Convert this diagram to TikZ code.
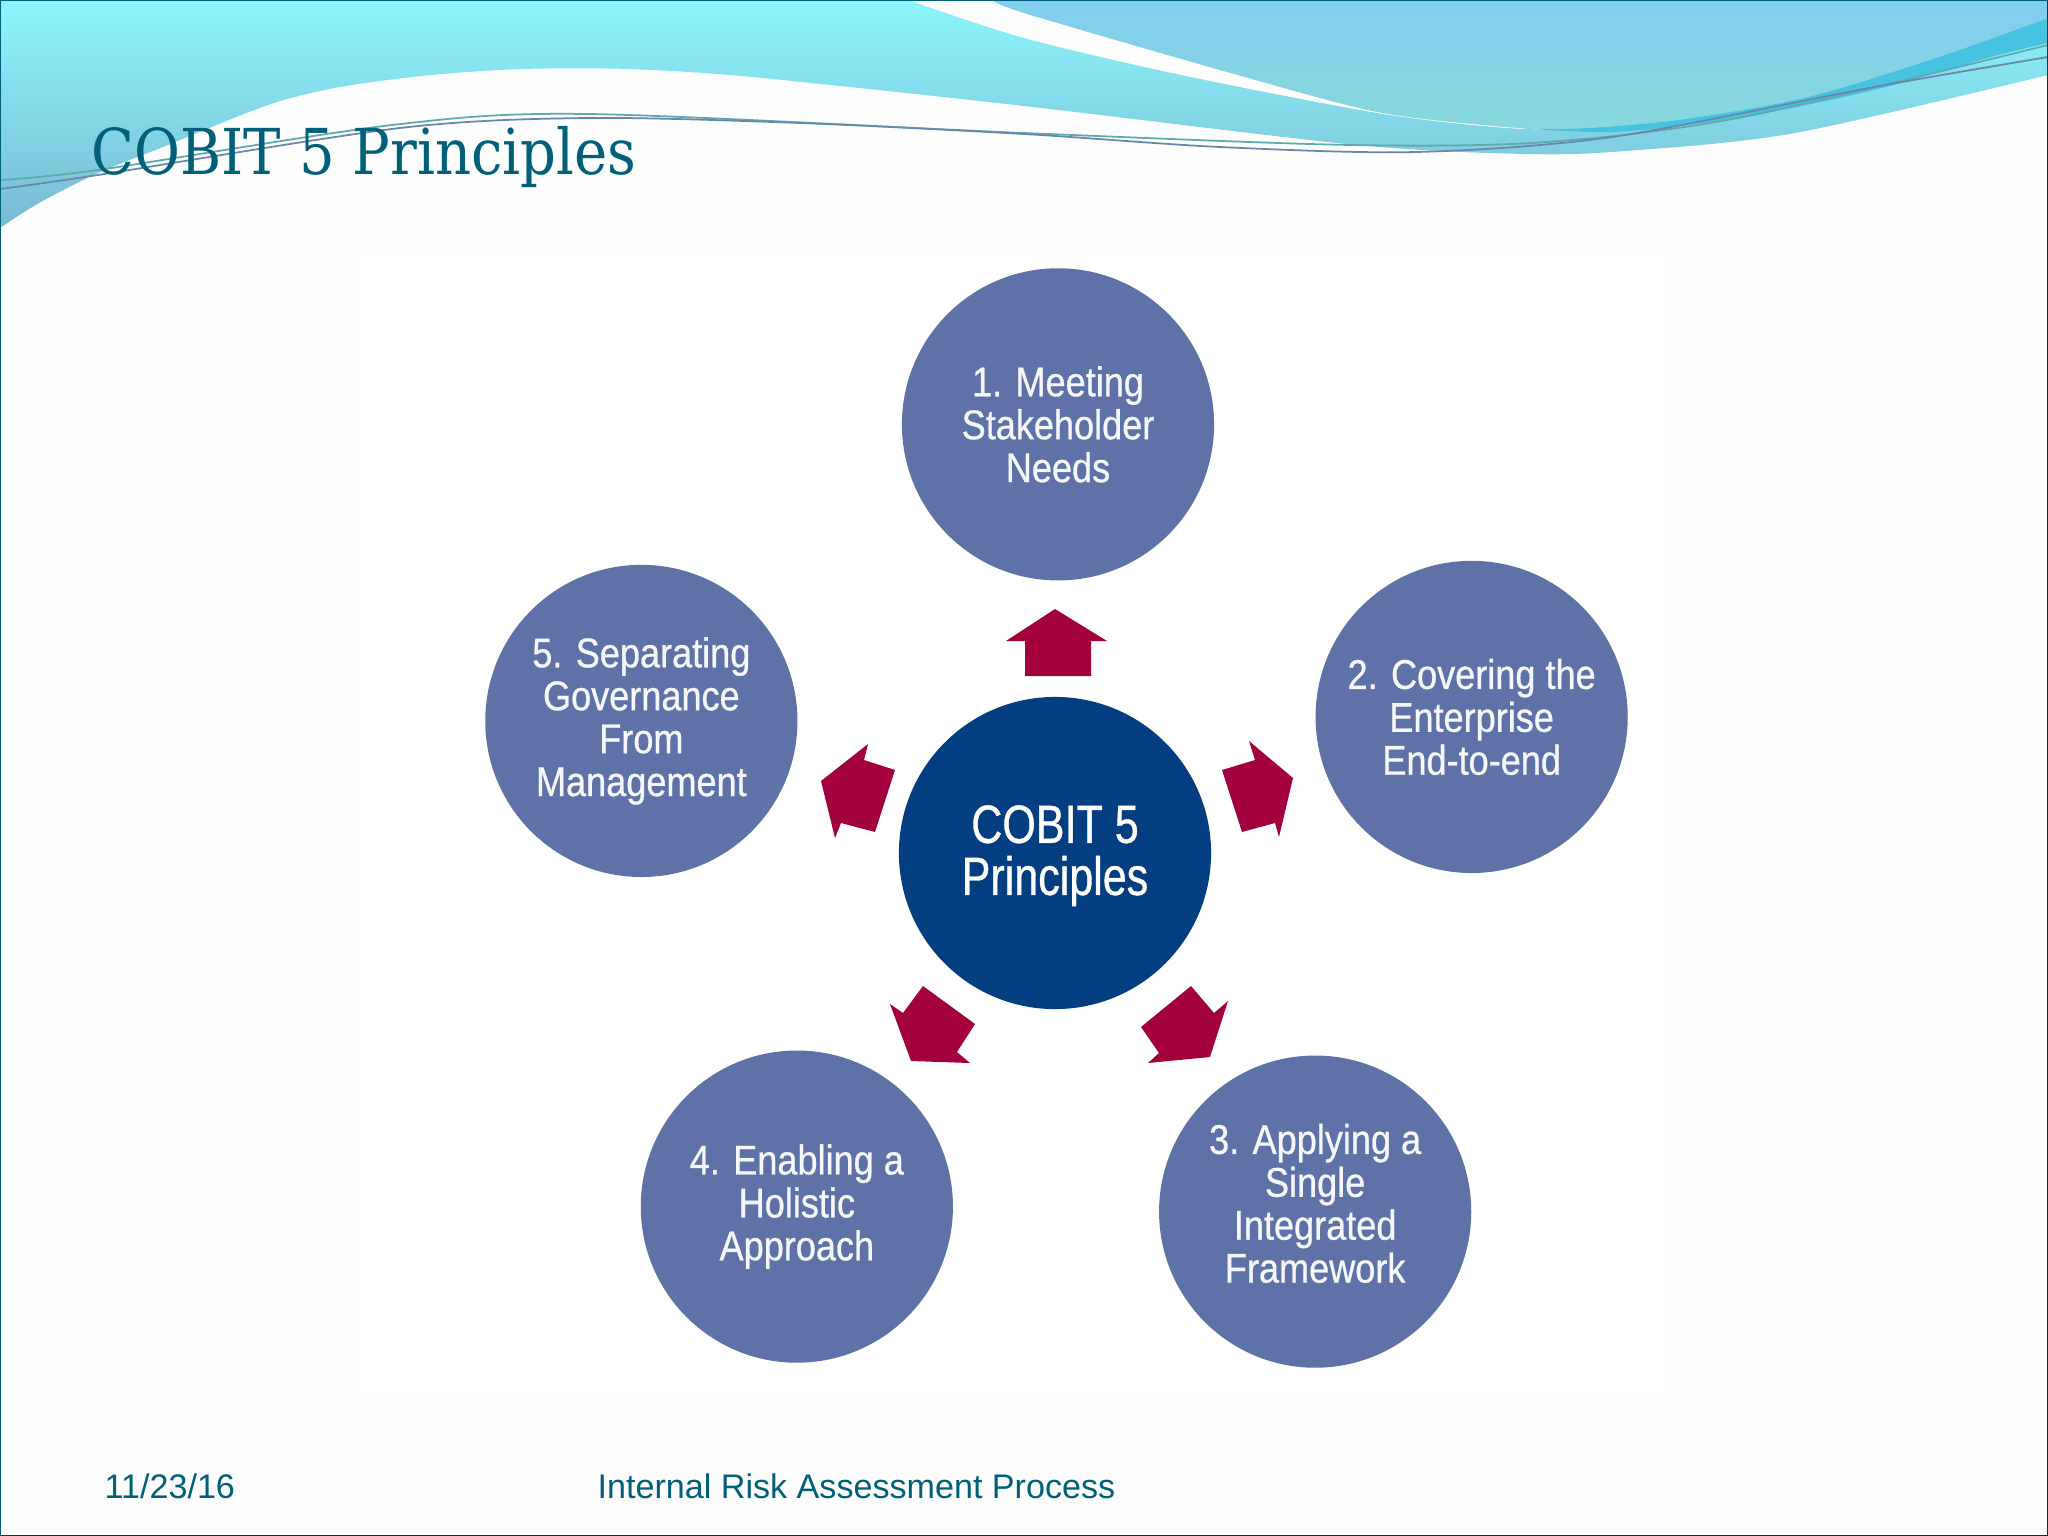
\documentclass[tikz,border=0pt]{standalone}
\usepackage{fontspec}
\usetikzlibrary{positioning}
\newfontfamily\labelfont[FakeStretch=0.87,FakeBold=0.7]{Liberation Sans}
\newfontfamily\hubfont[FakeStretch=0.8,FakeBold=0.7]{Liberation Sans}
\newfontfamily\titlefont[FakeStretch=0.886]{DejaVu Serif}
\newfontfamily\footfont{Liberation Sans}
\definecolor{slidebg}{RGB}{253,253,254}
\definecolor{tealink}{RGB}{0,96,122}
\definecolor{ringblue}{RGB}{95,114,168}
\definecolor{hubblue}{RGB}{2,62,128}
\definecolor{blockred}{RGB}{163,0,62}

\begin{document}
\begin{tikzpicture}[
        x=0.01cm, y=-0.01cm,
        principle/.style={
            circle, fill=ringblue, text=white!94!ringblue, minimum size=3.12cm, inner sep=0pt,
            align=center, font=\labelfont\fontsize{11.8}{12.2}\selectfont
        },
        hub/.style={
            circle, fill=hubblue, text=white, minimum size=3.12cm, inner sep=0pt,
            align=center, font=\hubfont\fontsize{15.3}{14.8}\selectfont
        },
        titletext/.style={anchor=base west, inner sep=0pt, text=tealink, font=\titlefont\fontsize{18}{20}\selectfont},
        foottext/.style={anchor=base west, inner sep=0pt, text=tealink, font=\footfont\fontsize{9.7}{11}\selectfont},
        block/.style={fill=blockred},
        swirl/.style={line width=0.5pt}
    ]
        \useasboundingbox (0,0) rectangle (2048,1536);

        % Slide background
        \fill[slidebg] (0,0) rectangle (2048,1536);
        \fill[white] (359,255) rectangle (1665,1397);

        % Waves along the top
        \shade[top color={rgb,255:red,140;green,246;blue,251}, bottom color={rgb,255:red,122;green,185;blue,212}]
            (0,0) -- (908,0) -- plot[smooth, tension=0.5] coordinates {(908,0) (1024,38) (1181,75) (1377,113) (1494,127) (1566,129) (1678,120) (1808,97) (1939,57) (2048,18)}
            -- plot[smooth, tension=0.5] coordinates {(2048,75) (1795,133) (1625,151) (1527,154) (1357,145) (1024,106) (752,77) (627,69) (523,69) (431,75) (340,87) (268,105) (163,147) (98,173) (39,203) (0,228)}
            -- cycle;
        \shade[top color={rgb,255:red,130;green,205;blue,240}, bottom color={rgb,255:red,135;green,216;blue,218}]
            (993,0) -- (2048,0) -- (2048,18)
            -- plot[smooth, tension=0.5] coordinates {(2048,18) (1939,57) (1808,97) (1678,120) (1566,129) (1494,126)}
            -- plot[smooth, tension=0.5] coordinates {(1494,126) (1377,112) (1227,72) (1024,13) (993,0)}
            -- cycle;
        \fill[fill={rgb,255:red,70;green,195;blue,225}]
            (1494,126) -- plot[smooth, tension=0.5] coordinates {(1494,126) (1612,132) (1743,117) (1874,90) (1991,57) (2048,43)}
            -- plot[smooth, tension=0.5] coordinates {(2048,18) (1939,57) (1808,97) (1678,120) (1566,129) (1494,126)};
        \draw[swirl, draw={rgb,255:red,95;green,170;blue,170}] plot[smooth] coordinates {(0,180) (98,170) (392,125) (588,114) (1024,133) (1351,145) (1547,142) (1743,117) (2048,45)};
        \draw[swirl, draw={rgb,255:red,105;green,135;blue,170}] plot[smooth] coordinates {(0,189) (98,175) (400,128) (588,118) (800,123) (1024,134) (1220,147) (1416,152) (1612,137) (1874,87) (2048,57)};

        % Slide frame
        \draw[line width=0.6pt, black!85] (0,0) rectangle (2048,1536);
        \draw[line width=0.6pt, tealink] (0,0) -- (2048,0);
        \draw[line width=0.6pt, tealink] (0,0) -- (0,1536);

        % Slide texts
        \node (title) [titletext] at (91,174) {COBIT 5 Principles};
        \node (date) [foottext] at (104,1498) {11/23/16};
        \node (foot) [foottext] at (597,1498) {Internal Risk Assessment Process};

        % Cascading circles round the hub
        \node (cen) [hub, text height=27pt] at (1055,853) {COBIT 5\\Principles};
        \node (pr1) [principle, above=1.15cm of cen, xshift=0.03cm] {1. Meeting\\Stakeholder\\Needs};
        \node (pr2) [principle, right=1.03cm of cen, yshift=1.36cm] {2. Covering the\\Enterprise\\End-to-end};
        \node (pr3) [principle, below=0.45cm of cen, xshift=2.60cm, text depth=4.8pt] {3. Applying a\\Single\\Integrated\\Framework};
        \node (pr4) [principle, below=0.40cm of cen, xshift=-2.58cm] {4. Enabling a\\Holistic\\Approach};
        \node (pr5) [principle, left=1.00cm of cen, yshift=1.32cm] {5. Separating\\Governance\\From\\Management};

        % Block arrows
        \fill[block] (1055,609) -- (1107,641) -- (1091,641) -- (1091,676) -- (1025,676) -- (1025,641) -- (1006,641) -- cycle;
        \fill[block] (1249,741) -- (1255,760) -- (1222,770) -- (1242,832) -- (1275,823) -- (1279,837) -- (1293,778) -- cycle;
        \fill[block] (1191,986) -- (1214,1013) -- (1228,1001) -- (1210,1057) -- (1148,1063) -- (1159,1053) -- (1141,1027) -- cycle;
        \fill[block] (923,986) -- (975,1024) -- (957,1052) -- (970,1063) -- (911,1061) -- (890,1004) -- (903,1013) -- cycle;
        \fill[block] (868,744) -- (864,760) -- (895,770) -- (875,832) -- (841,823) -- (835,838) -- (821,781) -- cycle;

    \end{tikzpicture}
\end{document}
